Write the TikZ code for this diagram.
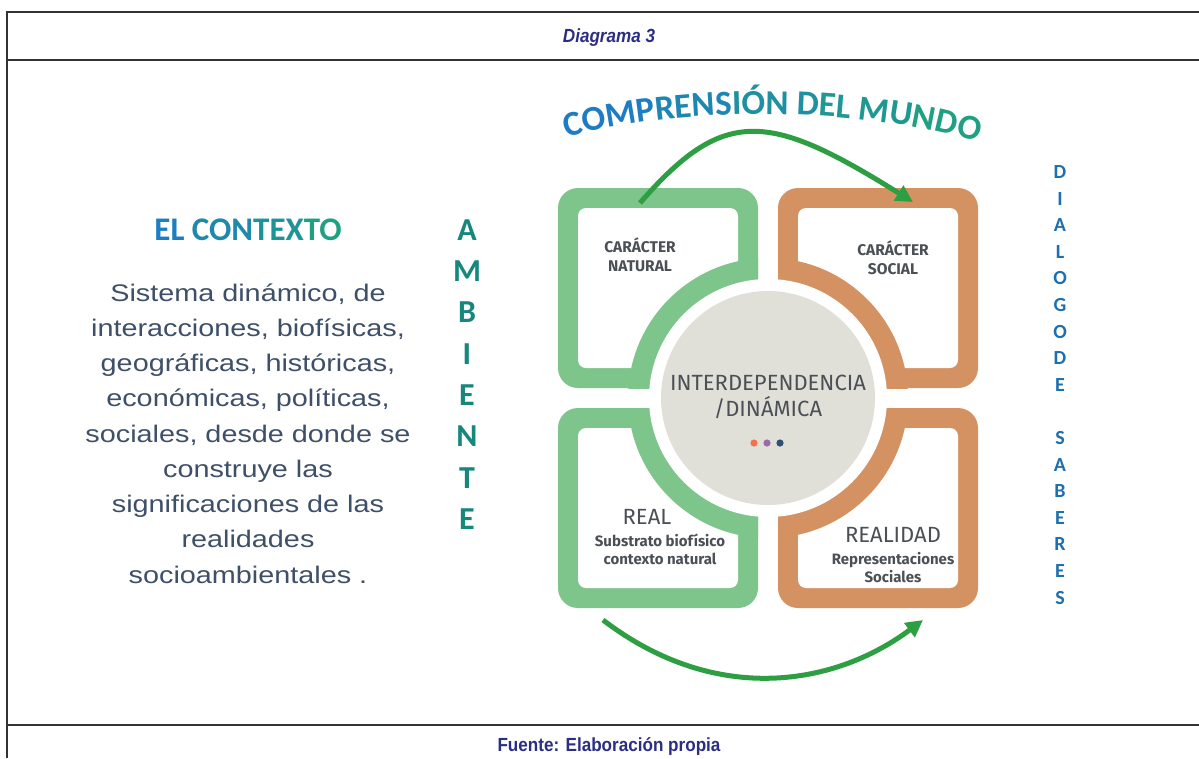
\documentclass[tikz,border=0pt]{standalone}
\usepackage{fontspec}
\usetikzlibrary{arrows.meta,decorations.text}
\newfontfamily\calfont{Carlito}
\newfontfamily\bodyfont[FakeStretch=1.2]{Liberation Sans}
\newfontfamily\firafont{Fira Sans}
\newfontfamily\capfont[FakeStretch=0.9]{Liberation Sans}
\newcommand\ttl{\calfont\bfseries\fontsize{35}{40}\selectfont}

\definecolor{qgreen}{RGB}{125,197,139}
\definecolor{qorange}{RGB}{212,146,99}
\definecolor{midgray}{RGB}{225,224,216}
\definecolor{arrowgreen}{RGB}{46,158,66}
\definecolor{navy}{RGB}{43,46,131}
\definecolor{slate}{RGB}{62,80,104}
\definecolor{labelgray}{RGB}{75,80,87}
\definecolor{tealA}{RGB}{23,135,125}
\definecolor{blueD}{RGB}{30,111,174}
\definecolor{gradA}{RGB}{30,125,194}
\definecolor{gradB}{RGB}{31,160,130}
\definecolor{dotA}{RGB}{240,115,74}
\definecolor{dotB}{RGB}{155,107,166}
\definecolor{dotC}{RGB}{46,82,114}

\tikzset{
  frame/.style={line width=2.4pt,black!80},
  bigarrow/.style={arrowgreen,line width=5pt,-{Triangle[length=17pt,width=17pt]}},
  quadlabel/.style={labelgray,align=center,font=\firafont\bfseries\fontsize{15.5}{19}\selectfont},
  quadsub/.style={labelgray,align=center,font=\firafont\bfseries\fontsize{15}{18}\selectfont},
  quadbig/.style={labelgray,align=center,font=\firafont\fontsize{22}{26}\selectfont},
  vletter/.style={font=\calfont\bfseries\fontsize{#1}{#1}\selectfont,inner sep=0pt},
  bodyline/.style={slate,anchor=base,font=\bodyfont\fontsize{24}{30}\selectfont},
  caption/.style={navy,font=\capfont\bfseries\fontsize{19}{22}\selectfont}
}

\begin{document}
\begin{tikzpicture}[x=1pt,y=-1pt]
    \useasboundingbox (0,0) rectangle (1199,758);
    \fill[white] (0,0) rectangle (1199,758);
    \draw[frame] (1199,12) -- (7,12) -- (7,758);
    \draw[frame] (7,60) -- (1199,60);
    \draw[frame] (7,725) -- (1199,725);
    \node[caption,font=\capfont\bfseries\itshape\fontsize{19}{22}\selectfont] (head) at (609,38) {Diagrama 3};
    \node[caption] (foot) at (609,746) {Fuente: Elaboración propia};

    \node[font=\calfont\bfseries\fontsize{33}{36}\selectfont] (ctx) at (248,230)
        {{\color{gradA}EL }{\color{gradA!65!gradB}CON}{\color{gradA!35!gradB}TEX}{\color{gradB}TO}};
    \foreach \t [count=\i from 0] in {{Sistema dinámico, de},{interacciones, biofísicas,},
        {geográficas, históricas,},{económicas, políticas,},{sociales, desde donde se},
        {construye las},{significaciones de las},{realidades},{socioambientales .}}
        \node[bodyline] (body\i) at (248,{301+35.25*\i}) {\t};

    \foreach \l [count=\i from 0] in {A,M,B,I,E,N,T,E}
        \node[vletter=32,tealA] (amb\i) at (467,{230+41.3*\i}) {\l};
    \foreach \l [count=\i from 0] in {D,I,A,L,O,G,O,D,E,{},S,A,B,E,R,E,S}
        \node[vletter=20,blueD] (dia\i) at (1060,{172+26.6*\i}) {\l};

    \coordinate (c) at (768,398);
    \foreach \qx/\qy/\qc in {558/188/qgreen,778/188/qorange,558/408/qgreen,778/408/qorange}{
        \fill[\qc,rounded corners=20pt] (\qx,\qy) rectangle ++(200,200);
        \fill[white,rounded corners=8pt] (\qx+20,\qy+20) rectangle ++(160,160);
        \begin{scope}
            \clip (\qx,\qy) rectangle ++(200,200);
            \fill[\qc] (c) circle (140);
        \end{scope}
    }
    \fill[white] (c) circle (119);
    \node[circle,fill=midgray,minimum size=214pt,inner sep=0pt] (hub) at (c) {};
    \node[quadbig] (inter) at (768,397) {INTERDEPENDENCIA\\/DINÁMICA};
    \fill[dotA] (754,443) circle (3.6);
    \fill[dotB] (767,443) circle (3.6);
    \fill[dotC] (780,443) circle (3.6);

    \node[quadlabel] (nat) at (640,255) {CARÁCTER\\NATURAL};
    \node[quadlabel] (soc) at (893,258) {CARÁCTER\\SOCIAL};
    \node[quadbig] (real) at (647,517) {REAL};
    \node[quadsub] (realsub) at (660,549) {Substrato biofísico\\contexto natural};
    \node[quadbig] (realidad) at (893,535) {REALIDAD};
    \node[quadsub] (realidadsub) at (893,568) {Representaciones\\Sociales};

    \coordinate (tlarc) at (640,203);
    \coordinate (trarc) at (913,202);
    \coordinate (blarc) at (603,620);
    \coordinate (brarc) at (923,620);
    \draw[bigarrow] (tlarc) .. controls (724,106) and (769,112) .. (trarc);
    \draw[bigarrow] (blarc) .. controls (717,707) and (836,685) .. (brarc);

    \path[decorate,decoration={text along path,text align=center,
        text={|\ttl\color{gradA}|COMP|\ttl\color{gradA!75!gradB}|RENS|\ttl\color{gradA!50!gradB}|IÓN D|\ttl\color{gradA!25!gradB}|EL MU|\ttl\color{gradB}|NDO}}]
        (567,137) .. controls (680,106) and (860,106) .. (977,142);
\end{tikzpicture}
\end{document}
